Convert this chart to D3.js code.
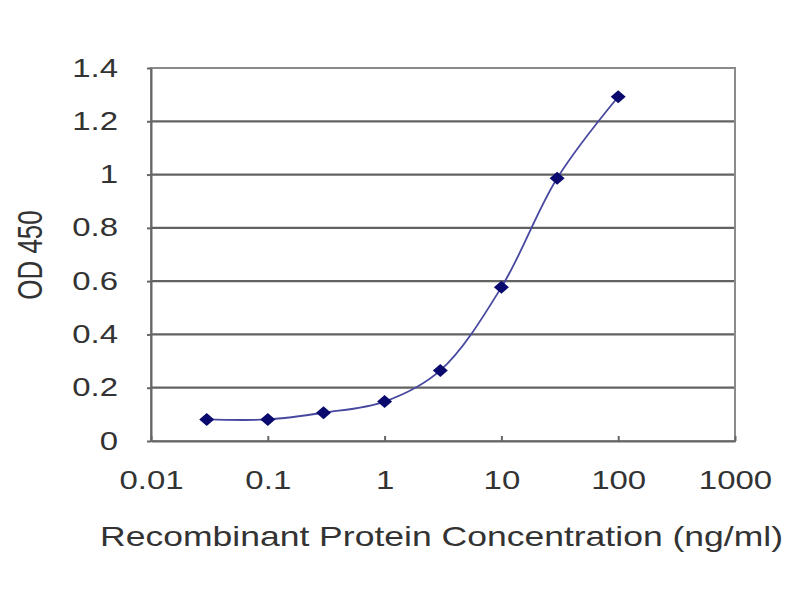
<!DOCTYPE html>
<html>
<head>
<meta charset="utf-8">
<script src="https://cdn.jsdelivr.net/npm/d3@7"></script>
<style>
  body { margin: 0; background: #fff; }
  text { font-family: "Liberation Sans", Arial, sans-serif; fill: #333; }
</style>
</head>
<body>
<div class="chart"></div>
<script>
'use strict'
// Data.
const concentrations = [0.03, 0.1, 0.3, 1, 3, 10, 30, 100]
const odValues = [0.081, 0.081, 0.106, 0.148, 0.265, 0.577, 0.986, 1.292]
const xTicks = [0.01, 0.1, 1, 10, 100, 1000]
const xTickLabels = ['0.01', '0.1', '1', '10', '100', '1000']
const yTicks = [0, 0.2, 0.4, 0.6, 0.8, 1, 1.2, 1.4]
const yTickLabels = ['0', '0.2', '0.4', '0.6', '0.8', '1', '1.2', '1.4']

const points = concentrations.map((c, i) => ({ x: c, y: odValues[i] }))

// The picture is stretched sideways, so the text is widened to match.
const stretch = 1.32

// Main.
function main() {
  const margin = { top: 68, right: 65, bottom: 159, left: 151 }
  const width = 800 - margin.left - margin.right
  const height = 600 - margin.top - margin.bottom

  const xScale = d3.scaleLog([0.01, 1000], [0, width])
  const yScale = d3.scaleLinear([0, 1.4], [height, 0])

  const svg = d3.select('.chart')
    .append('svg')
    .attr('width', 800)
    .attr('height', 600)
    .append('g')
    .attr('transform', `translate(${margin.left}, ${margin.top})`)

  // GRID LINES
  svg.append('g')
    .selectAll('line')
    .data(yTicks.slice(1, -1))
    .join('line')
    .attr('x1', 0)
    .attr('x2', width)
    .attr('y1', d => yScale(d))
    .attr('y2', d => yScale(d))
    .style('stroke', '#626262')
    .style('stroke-width', 2.2)

  // FRAME
  svg.append('rect')
    .attr('width', width)
    .attr('height', height)
    .style('fill', 'none')
    .style('stroke', '#8a8a8a')
    .style('stroke-width', 2)

  // Y AXIS
  const yAxis = d3.axisLeft(yScale)
    .tickValues(yTicks)
    .tickFormat((d, i) => yTickLabels[i])
    .tickSizeInner(4)
    .tickSizeOuter(0)

  const yAxisDraw = svg.append('g').call(yAxis)
  yAxisDraw.select('.domain').style('stroke', '#666').style('stroke-width', 2)
  yAxisDraw.selectAll('line').style('stroke', '#666').style('stroke-width', 2)
  yAxisDraw.selectAll('text')
    .attr('x', 0)
    .attr('transform', `translate(-33, 0) scale(${stretch}, 1)`)
    .style('font-size', '25px')
    .style('font-family', '"Liberation Sans", Arial, sans-serif')
    .style('fill', '#333')

  // X AXIS
  const xAxis = d3.axisBottom(xScale)
    .tickValues(xTicks)
    .tickFormat((d, i) => xTickLabels[i])
    .tickSizeInner(-5)
    .tickSizeOuter(0)
    .tickPadding(30)

  const xAxisDraw = svg.append('g')
    .attr('transform', `translate(0, ${height})`)
    .call(xAxis)
  xAxisDraw.select('.domain').style('stroke', '#666').style('stroke-width', 2)
  xAxisDraw.selectAll('line').style('stroke', '#666').style('stroke-width', 2)
  xAxisDraw.selectAll('text')
    .attr('transform', `scale(${stretch}, 1)`)
    .style('font-size', '25px')
    .style('font-family', '"Liberation Sans", Arial, sans-serif')
    .style('fill', '#333')

  // CURVE
  const line = d3.line()
    .x(d => xScale(d.x))
    .y(d => yScale(d.y))
    .curve(d3.curveCatmullRom.alpha(0.5))

  svg.append('path')
    .datum(points)
    .attr('d', line)
    .style('fill', 'none')
    .style('stroke', '#4848a0')
    .style('stroke-width', 1.8)

  // MARKERS
  svg.append('g')
    .selectAll('path')
    .data(points)
    .join('path')
    .attr('transform', d => `translate(${xScale(d.x)}, ${yScale(d.y)})`)
    .attr('d', 'M0,-6.5L7.5,0L0,6.5L-7.5,0Z')
    .style('fill', '#0a0a6e')

  // AXIS TITLES
  svg.append('text')
    .attr('x', -51)
    .attr('y', height + 105)
    .attr('textLength', 683)
    .attr('lengthAdjust', 'spacingAndGlyphs')
    .style('font-size', '28px')
    .text('Recombinant Protein Concentration (ng/ml)')

  svg.append('text')
    .attr('transform', `translate(${42 - margin.left}, ${255 - margin.top}) rotate(-90) scale(1, ${stretch})`)
    .attr('text-anchor', 'middle')
    .style('font-size', '26px')
    .text('OD 450')
}

// START
main()
</script>
</body>
</html>
